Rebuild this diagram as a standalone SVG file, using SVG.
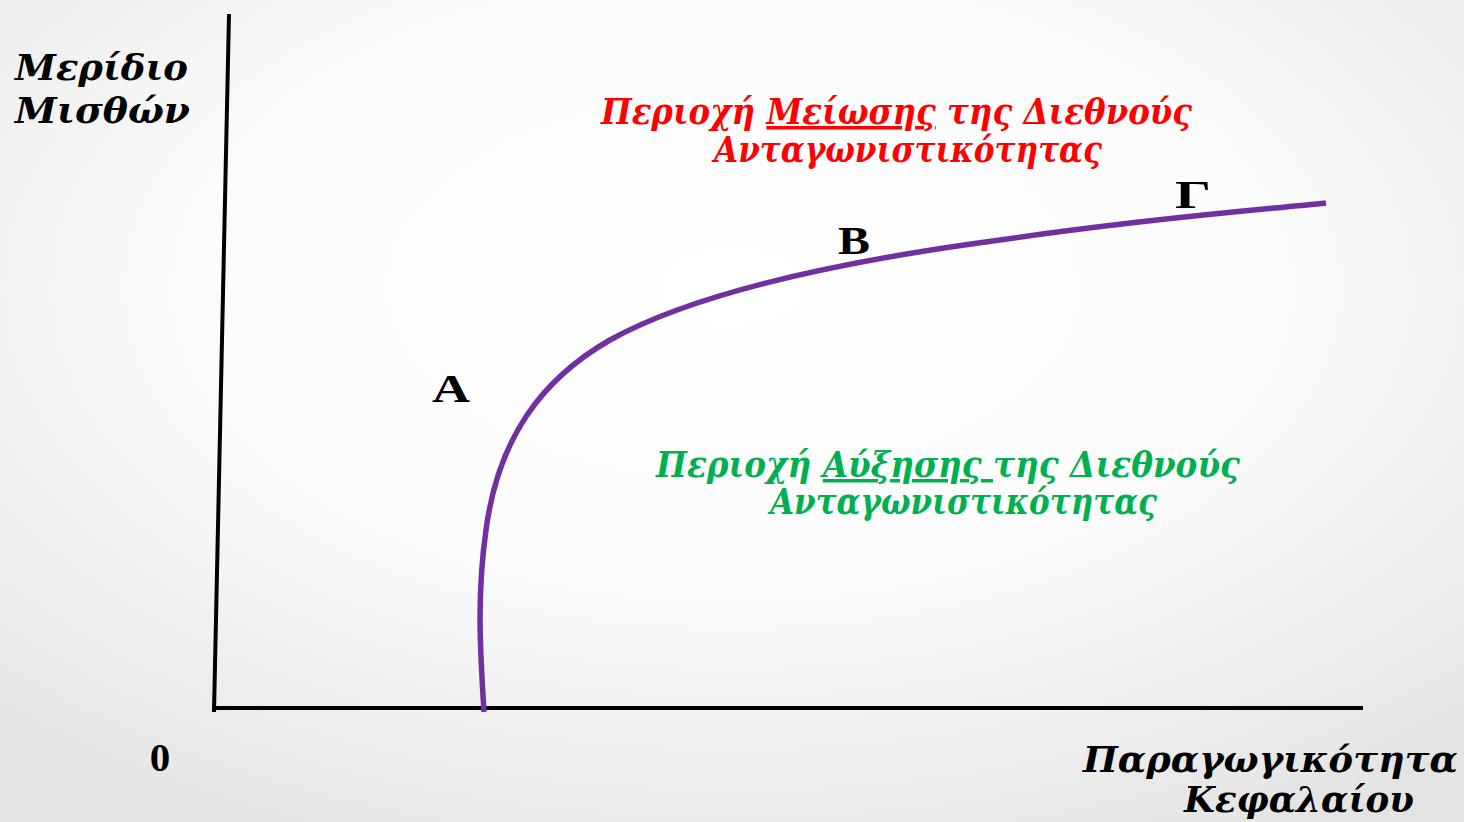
<svg xmlns="http://www.w3.org/2000/svg" width="1464" height="822" viewBox="0 0 1464 822">
<defs>
<radialGradient id="bg" cx="0.5" cy="0.35" r="0.75">
<stop offset="0" stop-color="#ffffff"/>
<stop offset="0.5" stop-color="#fbfbfb"/>
<stop offset="1" stop-color="#e4e4e4"/>
</radialGradient>
</defs>
<style>
.t{font-family:"DejaVu Serif","Liberation Serif",serif;font-weight:bold;font-style:italic;font-size:35px;}
.p{font-family:"Liberation Serif","DejaVu Serif",serif;font-weight:bold;fill:#000;font-size:41px;}
.ax{stroke:#000;stroke-width:4;fill:none;}
</style>
<rect x="0" y="0" width="1464" height="822" fill="url(#bg)"/>
<g id="axes">
<line class="ax" x1="229" y1="14" x2="214" y2="712"/>
<line class="ax" x1="212" y1="708" x2="1363" y2="708"/>
</g>
<g id="connectors">
<path d="M484,712 C481,660 476,600 486,530 C498,440 540,380 610,340 C700,290 850,260 1000,240 C1150,218 1260,210 1326,203" fill="none" stroke="#7030A0" stroke-width="5.5"/>
</g>
<g id="ylabel">
<text class="t" x="15" y="80" fill="#000" textLength="173" lengthAdjust="spacingAndGlyphs">Μερίδιο</text>
<text class="t" x="15" y="123" fill="#000" textLength="175" lengthAdjust="spacingAndGlyphs">Μισθών</text>
</g>
<g id="xlabel">
<text class="t" x="1083" y="772" fill="#000" textLength="375" lengthAdjust="spacingAndGlyphs">Παραγωγικότητα</text>
<text class="t" x="1184" y="812" fill="#000" textLength="230" lengthAdjust="spacingAndGlyphs">Κεφαλαίου</text>
</g>
<text class="p" x="160" y="771" text-anchor="middle">0</text>
<g id="region-red">
<text class="t" x="601" y="124" fill="#ff0000" textLength="591" lengthAdjust="spacingAndGlyphs">Περιοχή <tspan text-decoration="underline">Μείωσης</tspan> της Διεθνούς</text>
<text class="t" x="714" y="162" fill="#ff0000" textLength="388" lengthAdjust="spacingAndGlyphs">Ανταγωνιστικότητας</text>
</g>
<g id="region-green">
<text class="t" x="656" y="477" fill="#00B050" textLength="584" lengthAdjust="spacingAndGlyphs">Περιοχή <tspan text-decoration="underline">Αύξησης </tspan>της Διεθνούς</text>
<text class="t" x="770" y="514" fill="#00B050" textLength="387" lengthAdjust="spacingAndGlyphs">Ανταγωνιστικότητας</text>
</g>
<g id="point-A"><text class="p" x="432" y="402" textLength="38" lengthAdjust="spacingAndGlyphs">Α</text></g>
<g id="point-B"><text class="p" x="838" y="254" textLength="32" lengthAdjust="spacingAndGlyphs">Β</text></g>
<g id="point-G"><text class="p" x="1175" y="208" textLength="36" lengthAdjust="spacingAndGlyphs">Γ</text></g>
</svg>
